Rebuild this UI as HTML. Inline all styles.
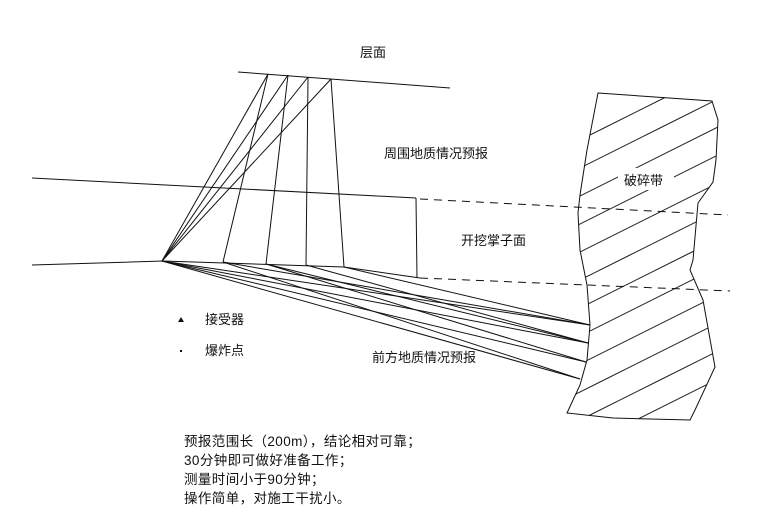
<!DOCTYPE html>
<html><head><meta charset="utf-8"><style>
html,body{margin:0;padding:0;background:#fff;}
svg{display:block;}
text{font-family:"Liberation Sans","Noto Sans CJK SC",sans-serif;fill:#111;}
</style></head><body>
<svg width="780" height="528" viewBox="0 0 780 528" xmlns="http://www.w3.org/2000/svg">
<defs>
<clipPath id="fz"><polygon points="598,93 712,101 718,120 716,160 713,182 698,203 693,260 690,270 703,300 715,367 695,410 690,420 613,418 567,413 580,385 587,360 590,325 587,285 580,250 578,213 580,195 587,150"/></clipPath>
</defs>
<g stroke="#111" stroke-width="1" fill="none">
<line x1="238" y1="72" x2="450" y2="88"/>
<line x1="32" y1="178" x2="416" y2="198"/>
<polyline points="32,265 163,261 344,267 420,278"/>
<line x1="416" y1="198" x2="417" y2="278"/>
<line x1="268" y1="74" x2="223" y2="262"/>
<line x1="288" y1="75" x2="266" y2="264"/>
<line x1="308" y1="77" x2="306" y2="265"/>
<line x1="331" y1="79" x2="344" y2="267"/>
<line x1="162" y1="261" x2="268" y2="74"/>
<line x1="162" y1="261" x2="288" y2="75"/>
<line x1="162" y1="261" x2="308" y2="77"/>
<line x1="162" y1="261" x2="331" y2="79"/>
<line x1="162" y1="261" x2="590" y2="325"/>
<line x1="162" y1="261" x2="588" y2="343"/>
<line x1="162" y1="261" x2="586" y2="362"/>
<line x1="162" y1="261" x2="580" y2="379"/>
<line x1="223" y1="262" x2="590" y2="325"/>
<line x1="223" y1="262" x2="580" y2="379"/>
<line x1="266" y1="264" x2="588" y2="343"/>
<line x1="266" y1="264" x2="586" y2="362"/>
<line x1="306" y1="265" x2="588" y2="343"/>
<line x1="344" y1="267" x2="590" y2="325"/>
<polygon points="598,93 712,101 718,120 716,160 713,182 698,203 693,260 690,270 703,300 715,367 695,410 690,420 613,418 567,413 580,385 587,360 590,325 587,285 580,250 578,213 580,195 587,150" fill="#fff"/>
<g clip-path="url(#fz)">
<line x1="560" y1="150" x2="760" y2="50"/>
<line x1="560" y1="178" x2="760" y2="78"/>
<line x1="560" y1="206" x2="760" y2="106"/>
<line x1="560" y1="234" x2="760" y2="134"/>
<line x1="560" y1="262" x2="760" y2="162"/>
<line x1="560" y1="290" x2="760" y2="190"/>
<line x1="560" y1="318" x2="760" y2="218"/>
<line x1="560" y1="346" x2="760" y2="246"/>
<line x1="560" y1="374" x2="760" y2="274"/>
<line x1="560" y1="402" x2="760" y2="302"/>
<line x1="560" y1="430" x2="760" y2="330"/>
<line x1="560" y1="458" x2="760" y2="358"/>
<line x1="560" y1="486" x2="760" y2="386"/>
</g>
<rect x="618" y="168" width="56" height="22" fill="#fff" stroke="none"/>
<line x1="420" y1="199" x2="728" y2="215" stroke-dasharray="8,6"/>
<line x1="420" y1="278" x2="730" y2="291" stroke-dasharray="8,6"/>
</g>
<polygon points="181,317 178,322 184,322" fill="#111"/>
<rect x="180" y="350" width="2" height="2" fill="#111"/>
<g font-size="13">
<text x="360" y="57">层面</text>
<text x="384" y="158">周围地质情况预报</text>
<text x="624" y="185">破碎带</text>
<text x="461" y="245">开挖掌子面</text>
<text x="372" y="362">前方地质情况预报</text>
<text x="205" y="324">接受器</text>
<text x="205" y="355">爆炸点</text>
</g>
<g font-size="13.5" letter-spacing="0.4">
<text x="184" y="446">预报范围长（200m），结论相对可靠；</text>
<text x="184" y="465">30分钟即可做好准备工作；</text>
<text x="184" y="484">测量时间小于90分钟；</text>
<text x="184" y="503">操作简单，对施工干扰小。</text>
</g>
</svg>
</body></html>
